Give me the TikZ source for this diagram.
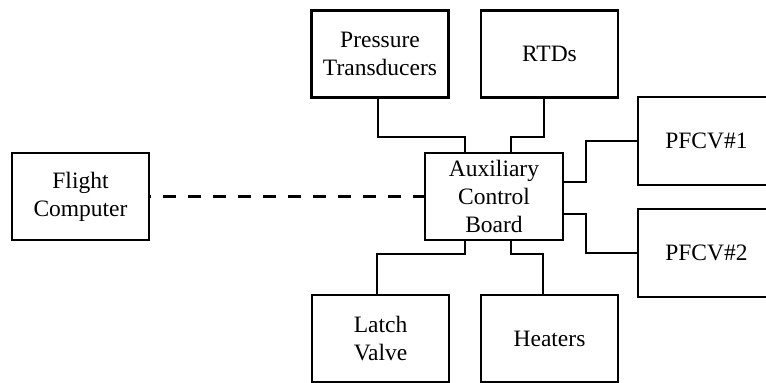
\documentclass[tikz,border=0pt]{standalone}
\usepackage{fontspec}
\setmainfont{Liberation Serif}
\begin{document}
\begin{tikzpicture}[x=1pt,y=-1pt,
  box/.style={draw, line width=2.2pt, minimum width=137pt, minimum height=87pt, align=center, inner sep=0pt, font=\fontsize{23.5}{28}\selectfont},
  wire/.style={line width=2.2pt},
  dashwire/.style={line width=2.2pt, dash pattern=on 13pt off 12pt, dash phase=12pt}]
\clip (0,0) rectangle (766,383);
\useasboundingbox (0,0) rectangle (766,383);
\node[box] (PT) at (380,54) {Pressure\\Transducers};
\node[box] (RTD) at (549.5,54) {RTDs};
\node[box, minimum width=138pt] (board) at (494,196.5) {Auxiliary\\Control\\Board};
\node[box] (FC) at (80.5,196.5) {Flight\\Computer};
\node[box, minimum height=88pt] (P1) at (706.5,141) {PFCV\#1};
\node[box, minimum height=88pt] (P2) at (706.5,253) {PFCV\#2};
\node[box] (LV) at (380.5,338.5) {Latch\\Valve};
\node[box] (HT) at (549.5,338.5) {Heaters};
\draw[wire] ([xshift=-2pt]PT.south) -- ++(0,38) -| ([xshift=41pt]board.north west);
\draw[wire] ([xshift=-5.5pt]RTD.south) -- ++(0,38) -| ([xshift=87pt]board.north west);
\draw[wire] ([xshift=41pt]board.south west) -- ++(0,13) -| ([xshift=-3.5pt]LV.north);
\draw[wire] ([xshift=87pt]board.south west) -- ++(0,13) -| ([xshift=-6.5pt]HT.north);
\draw[wire] ([yshift=14.5pt]board.east) -- ++(22,0) |- (P1.west);
\draw[wire] ([yshift=-17.5pt]board.east) -- ++(22,0) |- (P2.west);
\draw[dashwire] (FC.east) -- (board.west);
\end{tikzpicture}
\end{document}
